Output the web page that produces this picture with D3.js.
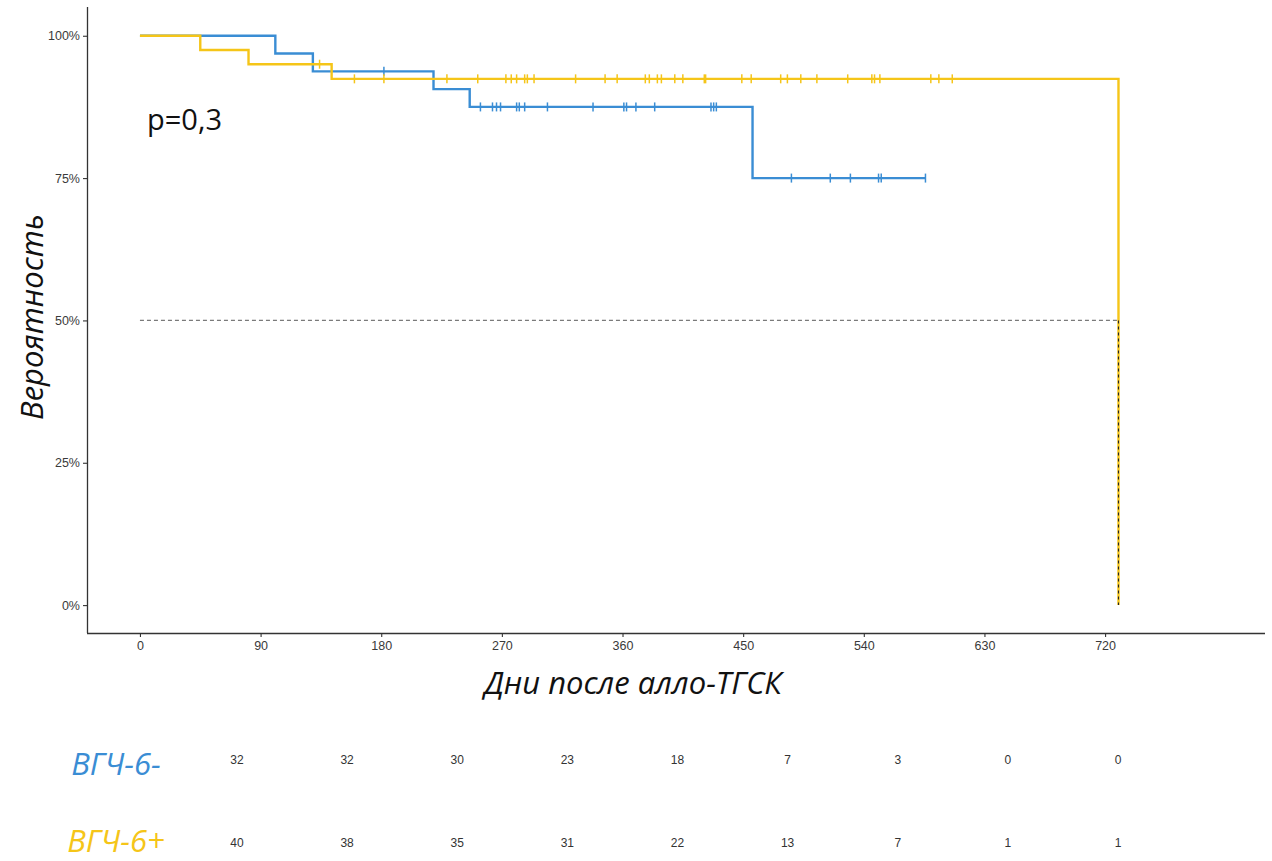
<!DOCTYPE html>
<html>
<head>
<meta charset="utf-8">
<script src="https://cdn.jsdelivr.net/npm/d3@7"></script>
<style>
  html, body { margin: 0; padding: 0; background: #fff; }
  svg { display: block; }
</style>
</head>
<body>
<svg id="chart" width="1272" height="861"></svg>
<script>
// ---- Data: Kaplan–Meier curves by HHV-6 status ----
const groupNames = ["ВГЧ-6-", "ВГЧ-6+"];
const groupColors = ["#3A8DD4", "#F5C518"];

// ВГЧ-6- : event times (days) and survival after each event
const negEventDays = [101, 129, 219, 246, 457];
const negEventSurv = [0.96875, 0.9375, 0.90625, 0.875, 0.75];
const negLastDay = 586;
const negCensorDays = [182, 254, 263, 266, 269, 281, 283, 287, 304, 338, 361, 363, 370, 384,
  426, 428, 430, 486, 515, 530, 551, 553, 586];

// ВГЧ-6+ : event times (days) and survival after each event
const posEventDays = [45, 81, 143, 730];
const posEventSurv = [0.975, 0.95, 0.9243, 0];
const posLastDay = 730;
const posCensorDays = [134, 160, 182, 229, 252, 273, 277, 281, 287, 289, 294, 325, 347, 356,
  377, 380, 386, 389, 399, 405, 421, 422, 449, 456, 478, 483, 493, 505, 528, 546, 548, 552,
  590, 596, 606];

// Median survival (ВГЧ-6+)
const medianDay = 730;

// Axis ticks
const xTicks = [0, 90, 180, 270, 360, 450, 540, 630, 720];
const yTicks = [0, 0.25, 0.5, 0.75, 1];

// Number at risk table
const riskTimes = [0, 90, 180, 270, 360, 450, 540, 630, 720];
const riskNeg = [32, 32, 30, 23, 18, 7, 3, 0, 0];
const riskPos = [40, 38, 35, 31, 22, 13, 7, 1, 1];

const pText = "p=0,3";
const xTitle = "Дни после алло-ТГСК";
const yTitle = "Вероятность";

// ---- Layout ----
const svg = d3.select("#chart");
const panel = { left: 87, right: 1265, top: 7, bottom: 633 };

const x = d3.scaleLinear().domain([-39.5, 839.3]).range([panel.left, panel.right]);
const y = d3.scaleLinear().domain([-0.049, 1.0505]).range([panel.bottom, panel.top]);

const tickFont = "'Liberation Sans', Arial, sans-serif";
const titleFont = "'Open Sans', 'Noto Sans', sans-serif";

// Build step path points for a group
function stepPoints(eventDays, eventSurv, lastDay) {
  const pts = [[0, 1]];
  let s = 1;
  eventDays.forEach((d, i) => {
    pts.push([d, s]);
    s = eventSurv[i];
    pts.push([d, s]);
  });
  pts.push([lastDay, s]);
  return pts;
}
function survAt(t, eventDays, eventSurv) {
  let s = 1;
  eventDays.forEach((d, i) => { if (d <= t) s = eventSurv[i]; });
  return s;
}

const groups = [
  { ev: negEventDays, sv: negEventSurv, last: negLastDay, cens: negCensorDays, color: groupColors[0] },
  { ev: posEventDays, sv: posEventSurv, last: posLastDay, cens: posCensorDays, color: groupColors[1] }
];

// Median reference line (horizontal)
svg.append("line")
  .attr("x1", x(0)).attr("x2", x(medianDay))
  .attr("y1", y(0.5)).attr("y2", y(0.5))
  .attr("stroke", "#7a7a7a").attr("stroke-width", 1.3)
  .attr("stroke-dasharray", "4,3");

const line = d3.line().x(d => x(d[0])).y(d => y(d[1]));

groups.forEach(g => {
  svg.append("path")
    .datum(stepPoints(g.ev, g.sv, g.last))
    .attr("d", line)
    .attr("fill", "none")
    .attr("stroke", g.color)
    .attr("stroke-width", 2.4)
    .attr("stroke-linejoin", "miter");
  svg.append("g").selectAll("line")
    .data(g.cens)
    .join("line")
    .attr("x1", d => x(d)).attr("x2", d => x(d))
    .attr("y1", d => y(survAt(d, g.ev, g.sv)) - 4.5)
    .attr("y2", d => y(survAt(d, g.ev, g.sv)) + 4.5)
    .attr("stroke", g.color)
    .attr("stroke-width", 1.5);
});

// Vertical median line drawn over the curve
svg.append("line")
  .attr("x1", x(medianDay)).attr("x2", x(medianDay))
  .attr("y1", y(0.5)).attr("y2", y(0))
  .attr("stroke", "#222").attr("stroke-width", 1.1)
  .attr("stroke-dasharray", "3,3");

// Axes
const xAxis = d3.axisBottom(x).tickValues(xTicks).tickSize(4).tickPadding(4).tickFormat(d3.format("d"));
const yAxis = d3.axisLeft(y).tickValues(yTicks).tickSize(4).tickPadding(3).tickFormat(d => Math.round(d * 100) + "%");

const gx = svg.append("g").attr("transform", `translate(0,${panel.bottom})`).call(xAxis);
const gy = svg.append("g").attr("transform", `translate(${panel.left},0)`).call(yAxis);
[gx, gy].forEach(g => {
  g.select(".domain").attr("stroke", "#333").attr("stroke-width", 1.3);
  g.selectAll(".tick line").attr("stroke", "#333").attr("stroke-width", 1.1);
  g.selectAll(".tick text").attr("fill", "#3a3a3a").attr("font-family", tickFont).attr("font-size", 12.5);
});
gx.select(".domain").attr("d", `M${panel.left},0.5H${panel.right}`);
gy.select(".domain").attr("d", `M0.5,${panel.top}V${panel.bottom}`);

// p-value
svg.append("text")
  .attr("x", 147).attr("y", 130)
  .attr("font-family", titleFont).attr("font-size", 29)
  .attr("fill", "#111")
  .text(pText);

// Axis titles
svg.append("text")
  .attr("x", 633).attr("y", 694)
  .attr("text-anchor", "middle")
  .attr("font-family", titleFont).attr("font-style", "italic").attr("font-size", 31)
  .attr("fill", "#111")
  .text(xTitle);

svg.append("text")
  .attr("transform", `translate(43,317) rotate(-90)`)
  .attr("text-anchor", "middle")
  .attr("font-family", titleFont).attr("font-style", "italic").attr("font-size", 31)
  .attr("fill", "#111")
  .text(yTitle);

// Number-at-risk table
const xr = d3.scaleLinear().domain([0, 720]).range([237, 1118]);
const rows = [
  { name: groupNames[0], vals: riskNeg, color: groupColors[0], yLab: 775, yNum: 764 },
  { name: groupNames[1], vals: riskPos, color: groupColors[1], yLab: 852, yNum: 847 }
];
rows.forEach(r => {
  svg.append("text")
    .attr("x", 116).attr("y", r.yLab)
    .attr("text-anchor", "middle")
    .attr("font-family", titleFont).attr("font-style", "italic").attr("font-size", 31)
    .attr("fill", r.color)
    .text(r.name);
  svg.append("g").selectAll("text")
    .data(riskTimes)
    .join("text")
    .attr("x", d => xr(d)).attr("y", r.yNum)
    .attr("text-anchor", "middle")
    .attr("font-family", tickFont).attr("font-size", 12)
    .attr("fill", "#333")
    .text((d, i) => r.vals[i]);
});
</script>
</body>
</html>
